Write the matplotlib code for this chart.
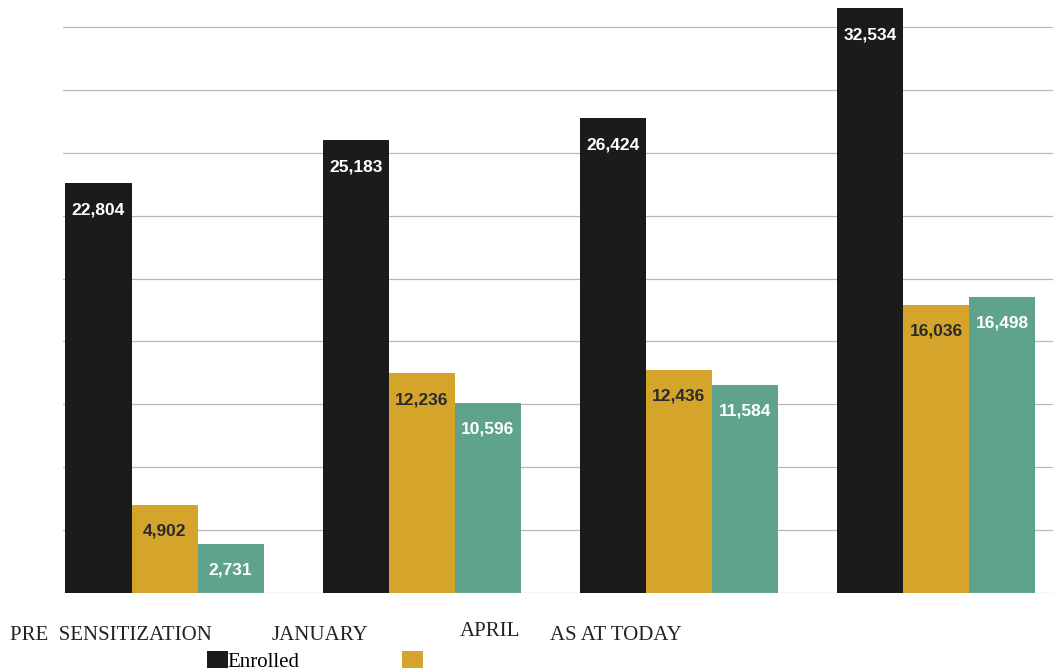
import matplotlib.pyplot as plt
import numpy as np

categories = ["PRE  SENSITIZATION", "JANUARY", "APRIL", "AS AT TODAY"]
enrolled = [22804, 25183, 26424, 32534]
second = [4902, 12236, 12436, 16036]
third = [2731, 10596, 11584, 16498]
legend_labels = ["Enrolled", ""]

c_black = "#1b1b1b"
c_gold = "#d5a42b"
c_teal = "#5fa38d"

fig = plt.figure(figsize=(10.53, 6.70), dpi=100)
ax = fig.add_axes([63 / 1053, 77 / 670, 1 - 63 / 1053, 593 / 670])

x = np.arange(len(categories))
w = 0.257
b1 = ax.bar(x - w, enrolled, w, color=c_black, zorder=3)
b2 = ax.bar(x, second, w, color=c_gold, zorder=3)
b3 = ax.bar(x + w, third, w, color=c_teal, zorder=3)

ax.set_xlim(-0.395, 3.455)
ax.set_ylim(0, 33000)
ax.set_yticks(np.arange(0, 33000, 3500))
ax.yaxis.grid(True, color="#b8b8b8", linewidth=0.9)
ax.set_axisbelow(True)
ax.tick_params(left=False, bottom=False, labelleft=False, labelbottom=False)
for s in ax.spines.values():
    s.set_visible(False)

lab = dict(fontsize=12.5, fontweight="bold", family="Liberation Sans")
for bars, col in [(b1, "white"), (b2, "#2a2a2a"), (b3, "white")]:
    for r in bars:
        h = r.get_height()
        ax.annotate(f"{int(h):,}", (r.get_x() + r.get_width() / 2, h),
                    xytext=(0, -19), textcoords="offset points",
                    ha="center", va="center", color=col, **lab)

# category labels sit below the plot, unevenly placed as in the scan
xpos = [10, 272, 460, 550]
ypos = [635, 635, 632, 635]
for t, px, py in zip(categories, xpos, ypos):
    fig.text(px / 1053, 1 - py / 670, t, family="Liberation Serif",
             fontsize=15, ha="left", va="center", color="#222222")

fig.legend([b1, b2], legend_labels, loc="upper left",
           bbox_to_anchor=(207 / 1053, 1 - 651 / 670), ncol=2, frameon=False,
           prop={"family": "Liberation Serif", "size": 15},
           handlelength=1.0, handleheight=0.9, handletextpad=0.0,
           columnspacing=4.9, borderpad=0, borderaxespad=0)

fig.savefig("out.png", dpi=100)
